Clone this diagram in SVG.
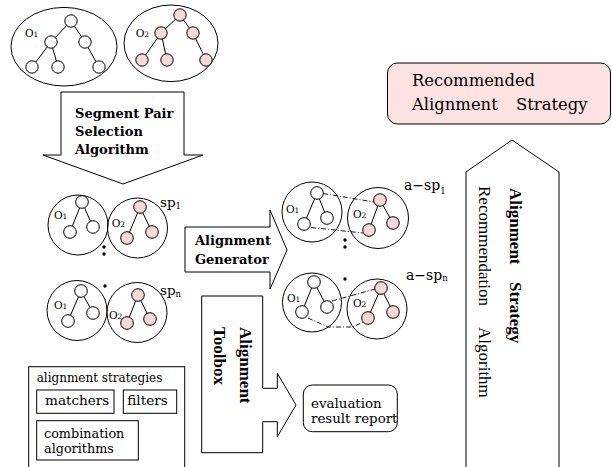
<svg xmlns="http://www.w3.org/2000/svg" width="612" height="467" viewBox="0 0 612 467">
<style>
.s{stroke:#000;stroke-width:1;fill:none}
.w{fill:#fff;stroke:#000;stroke-width:1}
.p{fill:#f9d8d8;stroke:#000;stroke-width:1}
.dd{stroke:#000;stroke-width:0.9;fill:none;stroke-dasharray:5 2 1 2}
.f{font-family:"DejaVu Serif",serif;fill:#000}
.r{font-family:"Liberation Serif",serif;fill:#000}
.b{font-weight:bold}
.o{font-family:"DejaVu Serif",serif;font-size:10.5px}
.o tspan{font-size:7.5px}
</style>
<rect width="612" height="467" fill="#fff"/>

<g id="onto1">
<ellipse cx="64" cy="46.7" rx="53" ry="39.3" class="s"/>
<path class="s" d="M71,21L51,42M71,21L85,42M51,42L32,67M51,42L58,67M85,42L99,67"/>
<circle cx="71" cy="21" r="6.2" class="w"/>
<circle cx="51" cy="42" r="6.2" class="w"/>
<circle cx="85" cy="42" r="6.2" class="w"/>
<circle cx="32" cy="67" r="6.2" class="w"/>
<circle cx="58" cy="67" r="6.2" class="w"/>
<circle cx="99" cy="67" r="6.2" class="w"/>
<text x="25" y="36.5" class="o">O<tspan>1</tspan></text>
</g>

<g id="onto2">
<ellipse cx="171" cy="43.3" rx="47" ry="38.3" class="s"/>
<path class="s" d="M180,15L161,33M180,15L193,33M161,33L142,60M161,33L167,60M193,33L206,60"/>
<circle cx="180" cy="15" r="6.2" class="p"/>
<circle cx="161" cy="33" r="6.2" class="p"/>
<circle cx="193" cy="33" r="6.2" class="p"/>
<circle cx="142" cy="60" r="6.2" class="p"/>
<circle cx="167" cy="60" r="6.2" class="p"/>
<circle cx="206" cy="60" r="6.2" class="p"/>
<text x="135.7" y="36.5" class="o">O<tspan>2</tspan></text>
</g>

<g id="segment-pair-selection">
<polygon class="w" points="61,92 184,92 184,155 203,155 123,184 43,155 61,155"/>
<text class="f b" font-size="13" x="75" y="118">Segment Pair</text>
<text class="f b" font-size="13" x="75" y="136">Selection</text>
<text class="f b" font-size="13" x="75" y="154">Algorithm</text>
</g>

<g id="sp1">
<circle cx="78" cy="225" r="30" class="s"/>
<circle cx="137.5" cy="228" r="30" class="s"/>
<path class="s" d="M82,202L70,232M82,202L93,227M140,207L127,238M140,207L152,232"/>
<circle cx="82" cy="202" r="6.3" class="w"/>
<circle cx="70" cy="232" r="6.3" class="w"/>
<circle cx="93" cy="227" r="6.3" class="w"/>
<circle cx="140" cy="207" r="6.3" class="p"/>
<circle cx="127" cy="238" r="6.3" class="p"/>
<circle cx="152" cy="232" r="6.3" class="p"/>
<text x="54" y="218.5" class="o">O<tspan>1</tspan></text>
<text x="111.7" y="227" class="o">O<tspan>2</tspan></text>
<text x="160" y="206.7" class="f" font-size="13.5">sp<tspan font-size="8.5" dy="2.6">1</tspan></text>
</g>

<g id="spn">
<circle cx="77" cy="310.5" r="30" class="s"/>
<circle cx="137" cy="312.5" r="30" class="s"/>
<path class="s" d="M81,291L68,321M81,291L93,313M138,295L127,323M138,295L150,319"/>
<circle cx="81" cy="291" r="6.3" class="w"/>
<circle cx="68" cy="321" r="6.3" class="w"/>
<circle cx="93" cy="313" r="6.3" class="w"/>
<circle cx="138" cy="295" r="6.3" class="p"/>
<circle cx="127" cy="323" r="6.3" class="p"/>
<circle cx="150" cy="319" r="6.3" class="p"/>
<text x="54" y="308.5" class="o">O<tspan>1</tspan></text>
<text x="109" y="318.5" class="o">O<tspan>2</tspan></text>
<text x="160" y="295" class="f" font-size="13.5">sp<tspan font-size="8.5" dy="2">n</tspan></text>
</g>

<g id="dots-left">
<circle cx="104" cy="247" r="1.7" fill="#000"/>
<circle cx="104" cy="254" r="1.7" fill="#000"/>
<circle cx="105" cy="286" r="1.7" fill="#000"/>
</g>

<g id="alignment-generator">
<polygon class="w" points="185,227 270,227 270,210 287,250 270,289 270,272 185,272"/>
<text class="f b" font-size="13" x="195" y="245">Alignment</text>
<text class="f b" font-size="13" x="195" y="264">Generator</text>
</g>

<g id="asp1">
<circle cx="312" cy="212" r="30" class="s"/>
<circle cx="378" cy="218" r="30.5" class="s"/>
<path class="s" d="M317,193L304,224M317,193L327,218M380,200L369,230M380,200L393,223"/>
<circle cx="317" cy="193" r="6.3" class="w"/>
<circle cx="304" cy="224" r="6.3" class="w"/>
<circle cx="327" cy="218" r="6.3" class="w"/>
<circle cx="380" cy="200" r="6.3" class="p"/>
<circle cx="369" cy="230" r="6.3" class="p"/>
<circle cx="393" cy="223" r="6.3" class="p"/>
<text x="286" y="212.5" class="o">O<tspan>1</tspan></text>
<text x="353" y="217.5" class="o">O<tspan>2</tspan></text>
<text x="404" y="190" class="f" font-size="14">a−sp<tspan font-size="8.5" dy="4">1</tspan></text>
</g>

<g id="aspn">
<circle cx="312" cy="302.5" r="29.5" class="s"/>
<circle cx="377" cy="309" r="30" class="s"/>
<path class="s" d="M314,282L302,312M314,282L327,307M381,288L368,318M381,288L393,312"/>
<circle cx="314" cy="282" r="6.3" class="w"/>
<circle cx="302" cy="312" r="6.3" class="w"/>
<circle cx="327" cy="307" r="6.3" class="w"/>
<circle cx="381" cy="288" r="6.3" class="p"/>
<circle cx="368" cy="318" r="6.3" class="p"/>
<circle cx="393" cy="312" r="6.3" class="p"/>
<text x="287" y="301.5" class="o">O<tspan>1</tspan></text>
<text x="353" y="306.5" class="o">O<tspan>2</tspan></text>
<text x="406" y="280" class="f" font-size="14">a−sp<tspan font-size="8.5" dy="1">n</tspan></text>
</g>

<g id="dots-right">
<circle cx="345" cy="240" r="1.7" fill="#000"/>
<circle cx="345" cy="247" r="1.7" fill="#000"/>
<circle cx="345" cy="279" r="1.7" fill="#000"/>
</g>

<g id="connectors">
<path class="dd" d="M323,193.5L374,202"/>
<path class="dd" d="M311,227.5L363,233"/>
<path class="dd" d="M332,301L375,289"/>
<path class="dd" d="M308,318L328,327L353,327L363,322"/>
</g>

<g id="alignment-toolbox">
<polygon class="w" points="201.7,296 262.7,296 262.7,388.3 277.3,388.3 277.3,373.3 296,405 277.3,436.7 277.3,421.7 262.7,421.7 262.7,452.7 201.7,452.7"/>
<text class="r b" font-size="17" transform="translate(240,327) rotate(90)">Alignment</text>
<text class="r b" font-size="17" transform="translate(214,327) rotate(90)">Toolbox</text>
</g>

<g id="evaluation-report">
<rect x="303.3" y="385" width="94" height="46.7" rx="9" class="w"/>
<text class="f" font-size="13.4" x="311" y="408">evaluation</text>
<text class="f" font-size="13.4" x="311" y="423">result report</text>
</g>

<g id="alignment-strategies">
<rect x="28.7" y="366.7" width="156" height="130" class="w"/>
<text class="f" font-size="12" x="36.7" y="381.7">alignment strategies</text>
<rect x="36.7" y="390" width="77.3" height="23.3" class="w"/>
<text class="f" font-size="13.6" x="45" y="405">matchers</text>
<rect x="123.3" y="390" width="53.4" height="23.3" class="w"/>
<text class="f" font-size="13.6" x="127.3" y="405">filters</text>
<rect x="36.7" y="420.7" width="101.6" height="39.3" class="w"/>
<text class="f" font-size="12.8" x="44" y="437.5">combination</text>
<text class="f" font-size="12.8" x="44" y="452.5">algorithms</text>
</g>

<g id="recommendation-algorithm">
<polygon class="w" points="466,480 466,172 512,140 559,172 559,480"/>
<text class="r b" font-size="17" transform="translate(510,188) rotate(90)">Alignment<tspan x="94">Strategy</tspan></text>
<text class="r" font-size="17" transform="translate(479,186) rotate(90)">Recommendation<tspan x="141">Algorithm</tspan></text>
</g>

<g id="recommended-strategy">
<rect x="387.5" y="63" width="223" height="61" rx="10" fill="#fde2e2" stroke="#000"/>
<text class="f" font-size="16.4" x="412" y="86">Recommended</text>
<text class="f" font-size="16.4" x="412" y="110">Alignment</text>
<text class="f" font-size="16.4" x="516" y="110">Strategy</text>
</g>
</svg>
